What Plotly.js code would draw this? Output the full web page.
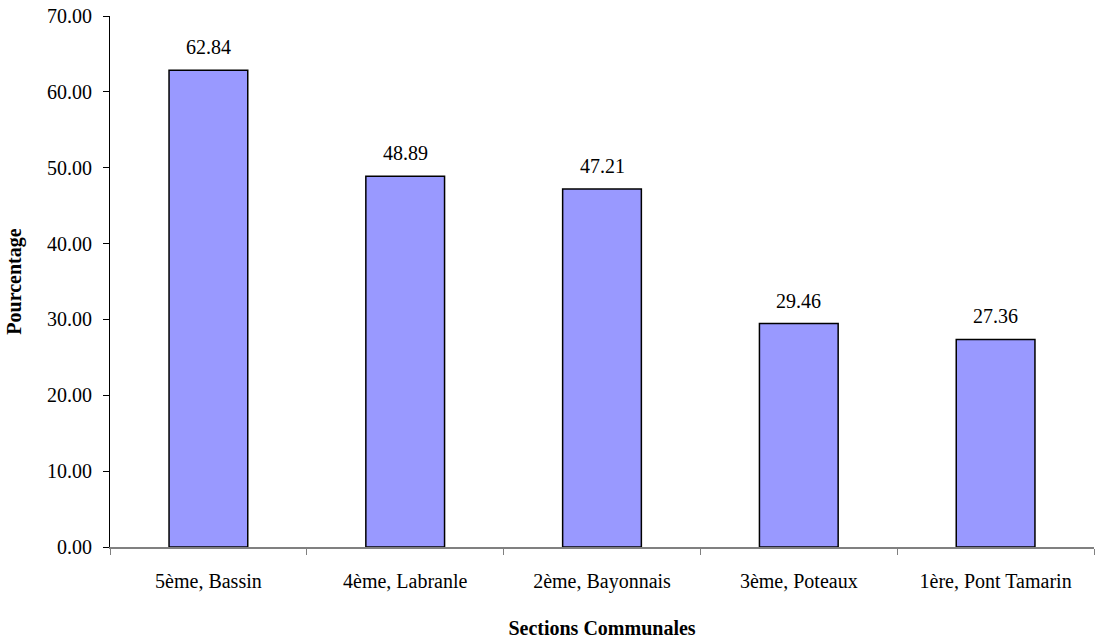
<!DOCTYPE html>
<html>
<head>
<meta charset="utf-8">
<script src="https://cdn.plot.ly/plotly-3.0.1.min.js"></script>
<style>html,body{margin:0;padding:0;background:#fff;}#chart{width:1096px;height:641px;}</style>
</head>
<body>
<div id="chart"></div>
<script>
const categories = ["5ème, Bassin", "4ème, Labranle", "2ème, Bayonnais", "3ème, Poteaux", "1ère, Pont Tamarin"];
const values = [62.84, 48.89, 47.21, 29.46, 27.36];
const yTickVals = [0, 10, 20, 30, 40, 50, 60, 70];
const yTickText = yTickVals.map(v => v.toFixed(2));

const FONT = "'Liberation Serif', serif";
const FS = 20;

const trace = {
  type: "bar",
  x: categories,
  y: values,
  width: 0.4,
  marker: {color: "#9999FF", line: {color: "#000000", width: 1.5}},
  hoverinfo: "none"
};

const annotations = categories.map((c, i) => ({
  x: c, y: values[i], xref: "x", yref: "y",
  text: values[i].toFixed(2), showarrow: false,
  yshift: 23, font: {family: FONT, size: FS, color: "#000"}
}));

const layout = {
  width: 1096, height: 641,
  margin: {l: 110, r: 2, t: 16, b: 94},
  paper_bgcolor: "#fff", plot_bgcolor: "#fff",
  showlegend: false,
  font: {family: FONT, size: FS, color: "#000"},
  xaxis: {
    type: "category",
    tickson: "boundaries",
    ticks: "outside", ticklen: 6, tickcolor: "#808080", tickwidth: 1,
    showline: true, linecolor: "#808080", linewidth: 1.5,
    showgrid: false, zeroline: false,
    ticklabelstandoff: 15,
    tickfont: {family: FONT, size: FS, color: "#000"},
    title: {text: "<b>Sections Communales</b>", font: {family: FONT, size: FS, color: "#000"}, standoff: 29},
    automargin: false
  },
  yaxis: {
    range: [0, 70],
    tickvals: yTickVals, ticktext: yTickText,
    ticks: "outside", ticklen: 6, tickcolor: "#000", tickwidth: 1,
    showline: true, linecolor: "#000", linewidth: 1,
    showgrid: false, zeroline: false,
    ticklabelstandoff: 7,
    tickfont: {family: FONT, size: FS, color: "#000"},
    title: {text: "<b>Pourcentage</b>", font: {family: FONT, size: FS, color: "#000"}, standoff: 20},
    automargin: false
  },
  annotations: annotations
};

Plotly.newPlot("chart", [trace], layout, {staticPlot: true, displayModeBar: false});
</script>
</body>
</html>
